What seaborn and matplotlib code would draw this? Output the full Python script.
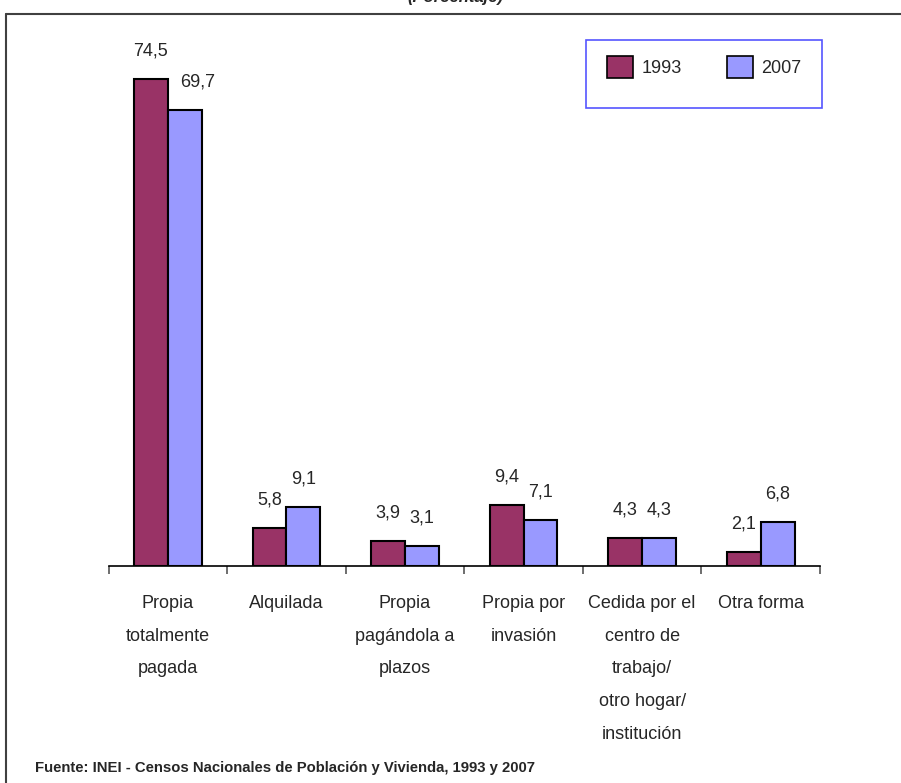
import pandas as pd
import numpy as np
import matplotlib
matplotlib.use("Agg")
import matplotlib.pyplot as plt
import seaborn as sns
from matplotlib.patches import Patch, Rectangle
from matplotlib.lines import Line2D

# Data
categorias = [
    "Propia\ntotalmente\npagada",
    "Alquilada",
    "Propia\npagándola a\nplazos",
    "Propia por\ninvasión",
    "Cedida por el\ncentro de\ntrabajo/\notro hogar/\ninstitución",
    "Otra forma",
]
valores_1993 = [74.5, 5.8, 3.9, 9.4, 4.3, 2.1]
valores_2007 = [69.7, 9.1, 3.1, 7.1, 4.3, 6.8]
anios = ["1993", "2007"]
colores = {"1993": "#993366", "2007": "#9999FF"}

df = pd.DataFrame({
    "categoria": categorias * 2,
    "valor": valores_1993 + valores_2007,
    "anio": [anios[0]] * len(categorias) + [anios[1]] * len(categorias),
})

sns.set_style("white")
plt.rcParams["font.family"] = ["Liberation Sans", "DejaVu Sans"]

W, H = 901, 783
fig = plt.figure(figsize=(W / 100, H / 100), dpi=100)
ax = fig.add_axes([108.5 / W, 1 - 566 / H, (820 - 108.5) / W, (566 - 43) / H])

sns.barplot(data=df, x="categoria", y="valor", hue="anio", palette=colores,
            width=0.57, saturation=1, edgecolor="black", linewidth=1.5,
            ax=ax, legend=False)

ax.set_xlim(-0.5, len(categorias) - 0.5)
ax.set_ylim(0, 80)
ax.set_xlabel("")
ax.set_ylabel("")
ax.set_yticks([])
for s in ["top", "right", "left"]:
    ax.spines[s].set_visible(False)
ax.spines["bottom"].set_color("black")
ax.spines["bottom"].set_linewidth(1.2)

# labels centred under each group, tick marks at group boundaries
ax.set_xticks(range(len(categorias)))
ax.set_xticklabels(categorias, fontsize=13, linespacing=2.2, va="top")
ax.tick_params(axis="x", which="major", length=0, pad=21)
ax.set_xticks(np.arange(-0.5, len(categorias)), minor=True)
ax.tick_params(axis="x", which="minor", length=6, width=1.2, color="#555555",
               direction="out", bottom=True)

# value labels with decimal comma
etiquetas = []
for cont, vals in zip(ax.containers, [valores_1993, valores_2007]):
    etiquetas.append(ax.bar_label(cont, labels=[f"{v:.1f}".replace(".", ",") for v in vals],
                                  padding=14, fontsize=13))
# the 69,7 label sits a little to the right in the original
etiquetas[1][0].xyann = (9, 14)

# legend inside a blue box
box = Rectangle((586 / W, 1 - 108 / H), (822 - 586) / W, 68 / H,
                transform=fig.transFigure, fill=False, edgecolor="#5555FF",
                linewidth=1.2)
fig.add_artist(box)
handles = [Patch(facecolor=colores[a], edgecolor="black", linewidth=1.2, label=a)
           for a in anios]
fig.legend(handles=handles, loc="center", bbox_to_anchor=(704 / W, 1 - 67 / H),
           ncol=2, frameon=False, fontsize=13, handlelength=1.45,
           handleheight=1.45, handletextpad=0.45, columnspacing=2.5)

# outer frame (left and top edges visible)
fig.add_artist(Line2D([6 / W, 6 / W], [0, 1 - 13.5 / H], transform=fig.transFigure,
                      color="#404040", linewidth=1.5))
fig.add_artist(Line2D([6 / W, 1], [1 - 13.5 / H, 1 - 13.5 / H],
                      transform=fig.transFigure, color="#404040", linewidth=1.5))

# title cut at the top edge, as in the original
fig.text(455 / W, 1 - 2 / H, "(Porcentaje)", ha="center", va="baseline",
         fontsize=12, fontweight="bold", fontstyle="italic")

fig.text(35 / W, 1 - 768 / H,
         "Fuente: INEI - Censos Nacionales de Población y Vivienda, 1993 y 2007",
         ha="left", va="center", fontsize=10.7, fontweight="bold")

fig.savefig("out.png", dpi=100)
